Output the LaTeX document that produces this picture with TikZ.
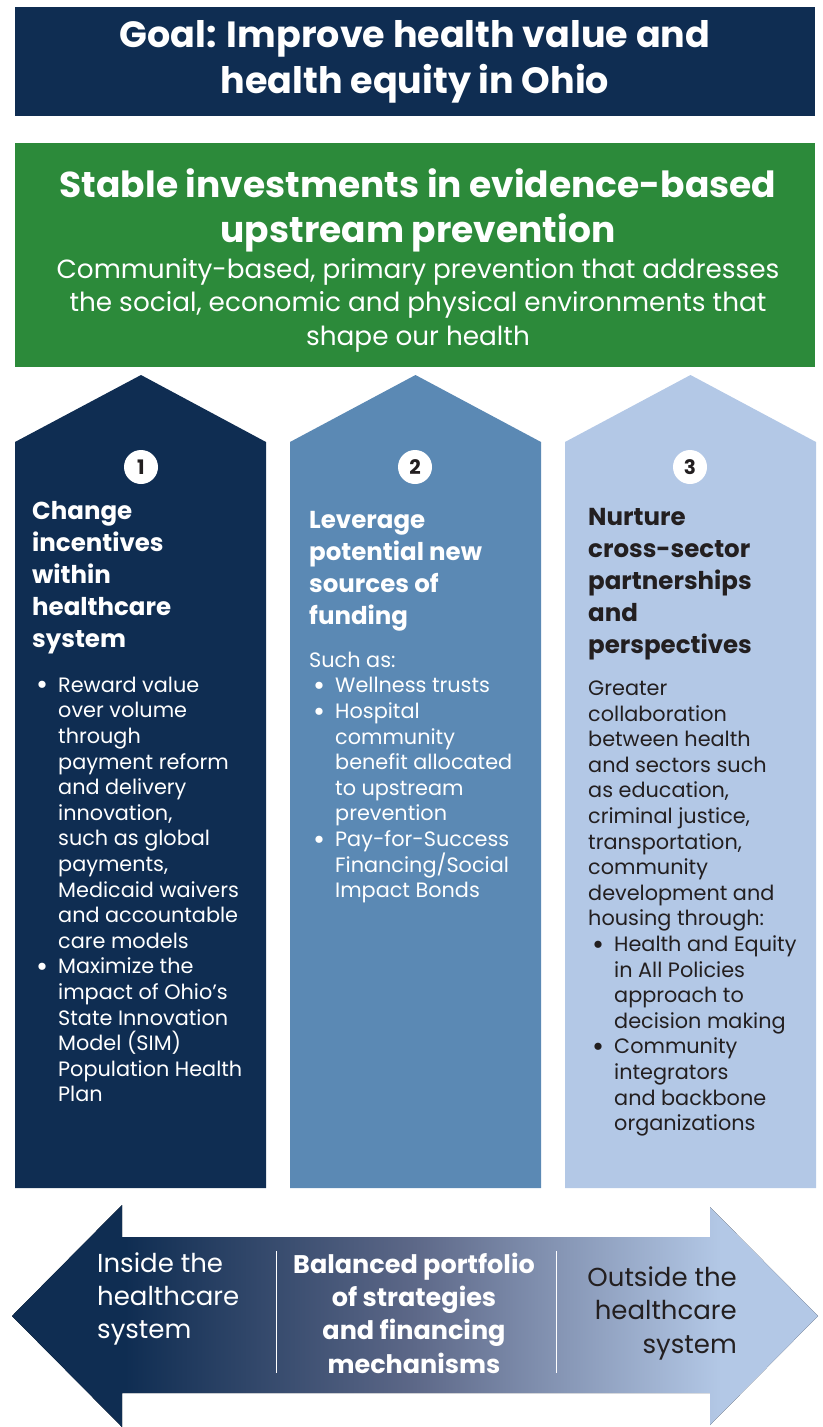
\documentclass[tikz,border=0pt]{standalone}
\usepackage{fontspec}
\setmainfont{Poppins}
\definecolor{navy}{HTML}{0F2D52}
\definecolor{leaf}{HTML}{2C8A3A}
\definecolor{steel}{HTML}{5B89B4}
\definecolor{sky}{HTML}{B3C8E6}
\definecolor{dusk}{HTML}{5D6888}
\definecolor{ink}{HTML}{231F20}
\pgfdeclarehorizontalshading{spread}{100bp}{color(0bp)=(navy); color(32bp)=(navy); color(50bp)=(dusk); color(69bp)=(sky); color(100bp)=(sky)}
\newcommand\bitem{\makebox[26pt][l]{\hspace{4pt}\smash{\raisebox{-2.6pt}{\scalebox{1.4}{•}}}}}
\newcommand\bskip{\makebox[26pt]{}}

\begin{document}
\begin{tikzpicture}[x=1pt,y=-1pt,
  head/.style={anchor=west, align=left, inner sep=0pt, font=\bfseries\fontsize{24.5}{32}\selectfont},
  body/.style={anchor=west, align=left, inner sep=0pt, font=\fontsize{20.8}{25.6}\selectfont},
  num/.style={circle, fill=white, text=ink, minimum size=34pt, inner sep=0pt, font=\bfseries\fontsize{20}{20}\selectfont}]
\useasboundingbox (0,0) rectangle (822,1427);
\node[fill=navy, minimum width=800pt, minimum height=109pt, text=white, align=center, font=\bfseries\fontsize{36.5}{46}\selectfont] (goal) at (415,61.5) {Goal: Improve health value and\\health equity in Ohio};
\fill[leaf] (15,143) rectangle (815,367);
\node[text=white, align=center, inner sep=0pt, font=\bfseries\fontsize{36}{45}\selectfont] (stable) at (418,210) {Stable investments in evidence-based\\upstream prevention};
\node[text=white, align=center, inner sep=0pt, font=\fontsize{26.3}{33.5}\selectfont] (community) at (418,305) {Community-based, primary prevention that addresses\\the social, economic and physical environments that\\shape our health};
\fill[navy] (15,1188) -- (15,442) -- (141,375) -- (266,442) -- (266,1188) -- cycle;
\fill[steel] (290,1188) -- (290,442) -- (415.5,375) -- (541,442) -- (541,1188) -- cycle;
\fill[sky] (565,1188) -- (565,442) -- (690.5,375) -- (816,442) -- (816,1188) -- cycle;
\node[num] (n1) at (141,467) {1};
\node[num] (n2) at (415,467) {2};
\node[num] (n3) at (690,467) {3};
\node[head, text=white] (incentives) at (32,578) {Change\\incentives\\within\\healthcare\\system};
\node[head, text=white] (funding) at (309,571) {Leverage\\potential new\\sources of\\funding};
\node[head, text=ink] (partners) at (588,584) {Nurture\\cross-sector\\partnerships\\and\\perspectives};
\node[body, text=white] (reward) at (32,889.5) {\bitem Reward value\\\bskip over volume\\\bskip through\\\bskip payment reform\\\bskip and delivery\\\bskip innovation,\\\bskip such as global\\\bskip payments,\\\bskip Medicaid waivers\\\bskip and accountable\\\bskip care models\\\bitem Maximize the\\\bskip impact of Ohio’s\\\bskip State Innovation\\\bskip Model (SIM)\\\bskip Population Health\\\bskip Plan};
\node[body, text=white] (suchas) at (309,777.5) {Such as:\\\bitem Wellness trusts\\\bitem Hospital\\\bskip community\\\bskip benefit allocated\\\bskip to upstream\\\bskip prevention\\\bitem Pay-for-Success\\\bskip Financing/Social\\\bskip Impact Bonds};
\node[body, text=ink] (greater) at (588,908.5) {Greater\\collaboration\\between health\\and sectors such\\as education,\\criminal justice,\\transportation,\\community\\development and\\housing through:\\\bitem Health and Equity\\\bskip in All Policies\\\bskip approach to\\\bskip decision making\\\bitem Community\\\bskip integrators\\\bskip and backbone\\\bskip organizations};
\fill[shading=spread] (12,1316) -- (122,1205) -- (122,1237) -- (710,1237) -- (710,1207) -- (818,1316) -- (710,1425) -- (710,1393) -- (122,1393) -- (122,1427) -- cycle;
\draw[white, line width=0.8pt] (276,1251) -- (276,1373);
\draw[white, line width=0.8pt] (556,1251) -- (556,1373);
\node[anchor=west, align=left, inner sep=0pt, text=white, font=\fontsize{26}{33}\selectfont] (inside) at (97,1299) {Inside the\\healthcare\\system};
\node[align=center, inner sep=0pt, text=white, font=\bfseries\fontsize{25.5}{33.4}\selectfont] (balanced) at (414,1313) {Balanced portfolio\\of strategies\\and financing\\mechanisms};
\node[anchor=east, align=right, inner sep=0pt, text=ink, font=\fontsize{26}{33.5}\selectfont] (outside) at (737,1313) {Outside the\\healthcare\\system};
\end{tikzpicture}
\end{document}
